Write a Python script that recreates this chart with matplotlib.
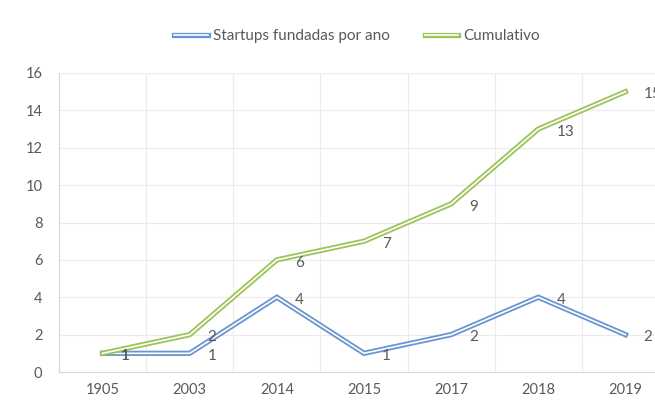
import matplotlib
matplotlib.use("Agg")
import matplotlib.pyplot as plt
import matplotlib.patheffects as pe

years = ["1905", "2003", "2014", "2015", "2017", "2018", "2019"]
startups = [1, 1, 4, 1, 2, 4, 2]
cumulative = [1, 2, 6, 7, 9, 13, 15]
series_names = ["Startups fundadas por ano", "Cumulativo"]
yticks = [0, 2, 4, 6, 8, 10, 12, 14, 16]

blue = "#6a96d0"
green = "#9cc45a"
txt = "#595959"

plt.rcParams["font.family"] = ["Lato", "DejaVu Sans"]

fig = plt.figure(figsize=(6.55, 4.01), dpi=100)
left = 59 / 655
right = 669 / 655
bottom = (401 - 372) / 401
top = (401 - 73) / 401
ax = fig.add_axes([left, bottom, right - left, top - bottom])

x = list(range(len(years)))
for vals, col, name in [(startups, blue, series_names[0]), (cumulative, green, series_names[1])]:
    ax.plot(x, vals, color=col, lw=3.8, solid_joinstyle="miter", zorder=3, label=name,
            path_effects=[pe.Stroke(linewidth=3.8, foreground=col),
                          pe.Stroke(linewidth=1.2, foreground="white")])
    for xi, v in zip(x, vals):
        ax.annotate(str(v), (xi, v), xytext=(13, -2), textcoords="offset points",
                    ha="left", va="center", fontsize=11, color=txt, zorder=5)

ax.set_xlim(-0.5, len(years) - 0.5)
ax.set_ylim(0, 16)
ax.set_yticks(yticks)
ax.set_xticks(x)
ax.set_xticklabels(years)
ax.set_xticks([i - 0.5 for i in range(len(years) + 1)], minor=True)
ax.tick_params(axis="both", which="both", length=0, colors=txt, labelsize=10.5)
ax.tick_params(axis="x", pad=8)
ax.tick_params(axis="y", pad=12)
ax.grid(axis="y", which="major", color="#ebebeb", lw=0.8)
ax.grid(axis="x", which="minor", color="#ebebeb", lw=0.8)
ax.grid(axis="x", which="major", visible=False)
for s in ["top", "right"]:
    ax.spines[s].set_visible(False)
ax.spines["left"].set_color("#d9d9d9")
ax.spines["bottom"].set_color("#d9d9d9")
ax.set_axisbelow(True)

fig.legend(loc="center", bbox_to_anchor=(357 / 655, 1 - 36 / 401), ncol=2,
           frameon=False, fontsize=11, handlelength=2.2, columnspacing=2.3,
           handletextpad=0.3, labelcolor=txt)

fig.savefig("out.png", dpi=100)
